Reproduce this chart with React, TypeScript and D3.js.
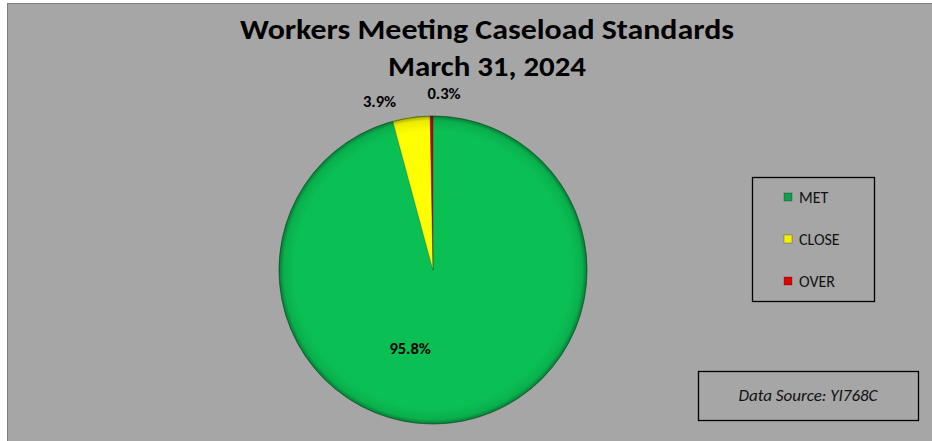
import React, { useEffect, useRef } from 'react';
import * as d3 from 'd3';

const categories = ['MET', 'CLOSE', 'OVER'];
const values = [95.8, 3.9, 0.3];
const sliceColors = ['#0abf53', '#ffff00', '#c00000'];
const legendColors = ['#10a04c', '#f2f200', '#e00000'];
const titleLines = ['Workers Meeting Caseload Standards', 'March 31, 2024'];
const sourceNote = 'Data Source: YI768C';

const W = 932;
const H = 441;

const App: React.FC = () => {
  const svgRef = useRef<SVGSVGElement>(null);

  useEffect(() => {
    if (!svgRef.current) return;
    const svg = d3.select(svgRef.current);
    svg.selectAll('*').remove();

    const font = "Carlito, Calibri, Lato, 'Open Sans', sans-serif";

    // background panel
    svg.append('rect').attr('width', W).attr('height', H).attr('fill', '#ffffff');
    svg.append('rect')
      .attr('x', 7.5).attr('y', 3.5)
      .attr('width', W - 7).attr('height', H - 3)
      .attr('fill', '#a6a6a6')
      .attr('stroke', '#7f7f7f');

    // title
    svg.selectAll('text.title')
      .data(titleLines)
      .enter()
      .append('text')
      .attr('class', 'title')
      .attr('x', 487)
      .attr('y', (_, i) => 39 + i * 37)
      .attr('text-anchor', 'middle')
      .attr('font-family', font)
      .attr('font-weight', 'bold')
      .attr('font-size', 29)
      .attr('textLength', (_, i) => (i === 0 ? 494 : 198))
      .attr('lengthAdjust', 'spacingAndGlyphs')
      .attr('fill', '#000')
      .text(d => d);

    // pie
    const cx = 433;
    const cy = 270;
    const r = 154;

    const defs = svg.append('defs');
    const grad = defs.append('radialGradient').attr('id', 'bevel');
    grad.append('stop').attr('offset', '90%').attr('stop-color', '#000').attr('stop-opacity', 0);
    grad.append('stop').attr('offset', '97%').attr('stop-color', '#000').attr('stop-opacity', 0.08);
    grad.append('stop').attr('offset', '100%').attr('stop-color', '#000').attr('stop-opacity', 0.35);

    const pie = d3.pie<number>().sort(null).value(d => d);
    const arcs = pie(values);
    const arc = d3.arc<d3.PieArcDatum<number>>().innerRadius(0).outerRadius(r);

    const g = svg.append('g').attr('transform', `translate(${cx},${cy})`);
    g.selectAll('path.slice')
      .data(arcs)
      .enter()
      .append('path')
      .attr('class', 'slice')
      .attr('d', arc)
      .attr('fill', (_, i) => sliceColors[i])
      .attr('stroke', 'rgba(0,80,30,0.35)')
      .attr('stroke-width', 0.6);

    g.append('circle').attr('r', r).attr('fill', 'url(#bevel)');
    g.append('circle').attr('r', r).attr('fill', 'none').attr('stroke', 'rgba(0,60,20,0.45)').attr('stroke-width', 1);

    // data labels
    const inner = d3.arc<d3.PieArcDatum<number>>().innerRadius(r * 0.5).outerRadius(r * 0.5);
    const outer = d3.arc<d3.PieArcDatum<number>>().innerRadius(r + 16).outerRadius(r + 16);
    arcs.forEach((a, i) => {
      const big = a.endAngle - a.startAngle > 0.5;
      let [x, y] = big ? inner.centroid(a) : outer.centroid(a);
      let anchor = 'middle';
      if (big) {
        x -= 33;
        y += 8;
      } else if (i === 1) {
        anchor = 'end';
        x -= 13;
        y += 5;
      } else {
        anchor = 'start';
        x -= 4;
        y -= 1;
      }
      g.append('text')
        .attr('x', x)
        .attr('y', y)
        .attr('text-anchor', anchor)
        .attr('font-family', font)
        .attr('font-weight', 'bold')
        .attr('font-size', 16.5)
        .attr('fill', '#000')
        .text(`${values[i].toFixed(1)}%`);
    });

    // legend
    const lg = svg.append('g').attr('transform', 'translate(752,177)');
    lg.append('rect')
      .attr('x', 0.5).attr('y', 0.5)
      .attr('width', 122).attr('height', 124)
      .attr('fill', 'none')
      .attr('stroke', '#000')
      .attr('stroke-width', 1.3);
    const ly = d3.scalePoint<string>().domain(categories).range([20, 104]);
    categories.forEach((c, i) => {
      const yy = ly(c) as number;
      lg.append('rect')
        .attr('x', 32).attr('y', yy - 4)
        .attr('width', 8).attr('height', 8)
        .attr('fill', legendColors[i])
        .attr('stroke', 'rgba(0,0,0,0.35)')
        .attr('stroke-width', 0.7);
      lg.append('text')
        .attr('x', 47)
        .attr('y', yy + 6)
        .attr('font-family', font)
        .attr('font-size', 16)
        .attr('fill', '#111')
        .text(c);
    });

    // data source box
    svg.append('rect')
      .attr('x', 698.5).attr('y', 371.5)
      .attr('width', 220).attr('height', 49)
      .attr('fill', 'none')
      .attr('stroke', '#000')
      .attr('stroke-width', 1.3);
    svg.append('text')
      .attr('x', 808)
      .attr('y', 401)
      .attr('text-anchor', 'middle')
      .attr('font-family', font)
      .attr('font-style', 'italic')
      .attr('font-size', 17)
      .attr('fill', '#111')
      .text(sourceNote);
  }, []);

  return (
    <div style={{ position: 'absolute', left: 0, top: 0, width: W, height: H, overflow: 'hidden' }}>
      <svg ref={svgRef} width={W} height={H} style={{ display: 'block' }} />
    </div>
  );
};

export default App;
